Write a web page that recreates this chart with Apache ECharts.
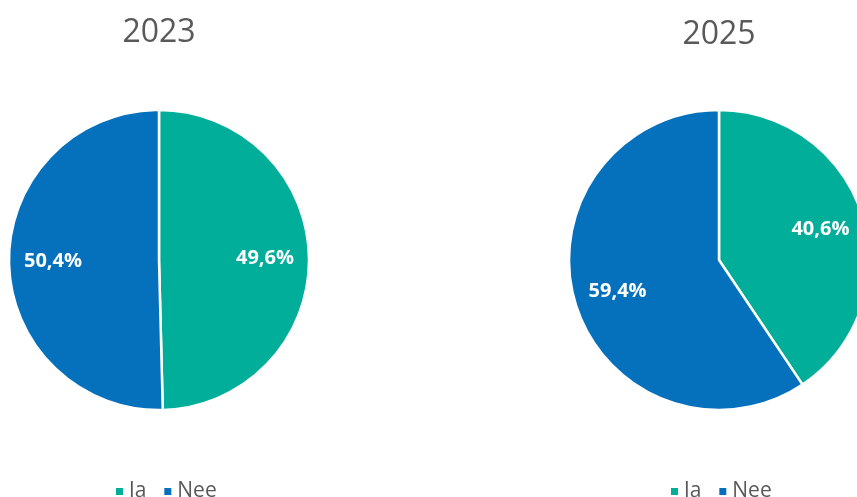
<!DOCTYPE html>
<html>
<head>
<meta charset="utf-8">
<script src="https://cdn.jsdelivr.net/npm/echarts@6/dist/echarts.min.js"></script>
<style>
  html, body { margin: 0; padding: 0; background: #fff; }
  #chart { width: 857px; height: 497px; }
</style>
</head>
<body>
<div id="chart"></div>
<script>
// Data
const categories = ['Ja', 'Nee'];
const years = ['2023', '2025'];
const values2023 = [49.6, 50.4];
const values2025 = [40.6, 59.4];

const colors = ['#00AE99', '#0571BD'];
const textGrey = '#595959';

const chart = echarts.init(document.getElementById('chart'));

// Helper: format value with comma decimal
function formatPct(v) {
  return v.toFixed(1).replace('.', ',') + '%';
}

function toData(values) {
  return categories.map((name, i) => ({ name: name, value: values[i] }));
}

const centers = [[159, 260], [719, 260]];
const titleTops = [17, 19];
const legendLefts = [114, 669];
const allValues = [values2023, values2025];

const series = [];
// Visible pies
allValues.forEach((vals, idx) => {
  series.push({
    type: 'pie',
    name: years[idx],
    center: centers[idx],
    radius: 150,
    startAngle: 90,
    clockwise: true,
    data: toData(vals),
    itemStyle: {
      borderColor: '#fff',
      borderWidth: 2.5
    },
    label: { show: false },
    labelLine: { show: false },
    emphasis: { scale: false }
  });
});
// Transparent pies only used to place the data labels further out
allValues.forEach((vals, idx) => {
  series.push({
    type: 'pie',
    name: years[idx] + ' labels',
    center: centers[idx],
    radius: 206,
    startAngle: 90,
    clockwise: true,
    silent: true,
    data: toData(vals),
    itemStyle: { color: 'rgba(0,0,0,0)' },
    label: {
      show: true,
      position: 'inside',
      formatter: (p) => formatPct(p.value),
      color: '#fff',
      fontFamily: 'Open Sans',
      fontWeight: 'bold',
      fontSize: 20
    },
    labelLine: { show: false },
    emphasis: { disabled: true }
  });
});

const option = {
  color: colors,
  animation: false,
  title: years.map((y, idx) => ({
    text: y,
    left: centers[idx][0],
    top: titleTops[idx],
    padding: 0,
    textAlign: 'center',
    textStyle: {
      color: textGrey,
      fontFamily: 'Open Sans',
      fontWeight: 'normal',
      fontSize: 32
    }
  })),
  legend: legendLefts.map((l) => ({
    data: categories,
    left: l,
    top: 481,
    padding: 0,
    icon: 'rect',
    itemWidth: 9,
    itemHeight: 9,
    itemGap: 16,
    textStyle: {
      color: textGrey,
      fontFamily: 'Open Sans',
      fontSize: 21
    },
    selectedMode: false
  })),
  series: series
};

chart.setOption(option);
</script>
</body>
</html>
